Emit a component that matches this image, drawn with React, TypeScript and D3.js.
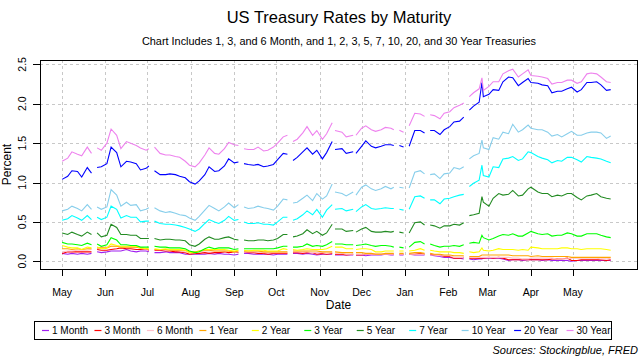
import { useEffect, useRef } from "react"
import * as d3 from "d3"

// sample dates (null rows = market holidays, they break the lines)
const dates = [
  "2020-05-01", "2020-05-05", "2020-05-08", "2020-05-12", "2020-05-15", "2020-05-19", "2020-05-22", "2020-05-25", "2020-05-26", "2020-05-29",
  "2020-06-02", "2020-06-05", "2020-06-09", "2020-06-12", "2020-06-16", "2020-06-19", "2020-06-23", "2020-06-26", "2020-06-30", "2020-07-02", "2020-07-03",
  "2020-07-06", "2020-07-10", "2020-07-14", "2020-07-17", "2020-07-21", "2020-07-24", "2020-07-28", "2020-07-31",
  "2020-08-04", "2020-08-07", "2020-08-11", "2020-08-14", "2020-08-18", "2020-08-21", "2020-08-25", "2020-08-28",
  "2020-09-01", "2020-09-04", "2020-09-07", "2020-09-08", "2020-09-11", "2020-09-15", "2020-09-18", "2020-09-22", "2020-09-25", "2020-09-29",
  "2020-10-02", "2020-10-06", "2020-10-09", "2020-10-12", "2020-10-13", "2020-10-16", "2020-10-20", "2020-10-23", "2020-10-27", "2020-10-30",
  "2020-11-03", "2020-11-06", "2020-11-10", "2020-11-11", "2020-11-12", "2020-11-17", "2020-11-20", "2020-11-25", "2020-11-26", "2020-11-27",
  "2020-12-01", "2020-12-04", "2020-12-08", "2020-12-11", "2020-12-15", "2020-12-18", "2020-12-22", "2020-12-24", "2020-12-25", "2020-12-28", "2020-12-31",
  "2021-01-01", "2021-01-04", "2021-01-08", "2021-01-12", "2021-01-15", "2021-01-18", "2021-01-19", "2021-01-22", "2021-01-26", "2021-01-29",
  "2021-02-02", "2021-02-05", "2021-02-09", "2021-02-12", "2021-02-15", "2021-02-16", "2021-02-19", "2021-02-23", "2021-02-25", "2021-02-26",
  "2021-03-02", "2021-03-05", "2021-03-09", "2021-03-12", "2021-03-16", "2021-03-19", "2021-03-23", "2021-03-26", "2021-03-30",
  "2021-04-01", "2021-04-06", "2021-04-09", "2021-04-13", "2021-04-16", "2021-04-20", "2021-04-23", "2021-04-27", "2021-04-30",
  "2021-05-04", "2021-05-07", "2021-05-11", "2021-05-14", "2021-05-18", "2021-05-21", "2021-05-25", "2021-05-28", "2021-05-31",
]

const month1 = [
  0.10, 0.09, 0.10, 0.09, 0.10, 0.09, 0.10, null, 0.12, 0.11,
  0.12, 0.13, 0.13, 0.13, 0.15, 0.13, 0.12, 0.13, 0.13, 0.12, null,
  0.11, 0.11, 0.12, 0.11, 0.11, 0.11, 0.09, 0.09,
  0.09, 0.09, 0.09, 0.10, 0.09, 0.10, 0.09, 0.09,
  0.08, 0.09, null, 0.10, 0.10, 0.09, 0.09, 0.09, 0.09, 0.08,
  0.09, 0.09, 0.09, null, 0.10, 0.10, 0.09, 0.10, 0.09, 0.08,
  0.09, 0.09, 0.09, null, 0.08, 0.08, 0.08, 0.08, null, 0.08,
  0.08, 0.07, 0.08, 0.08, 0.08, 0.09, 0.08, 0.08, null, 0.08, 0.08,
  null, 0.09, 0.08, 0.08, 0.08, null, 0.08, 0.07, 0.06, 0.05,
  0.05, 0.04, 0.04, 0.03, null, 0.03, 0.02, 0.03, 0.03, 0.04,
  0.04, 0.04, 0.04, 0.03, 0.01, 0.02, 0.02, 0.01, 0.02,
  0.02, 0.02, 0.01, 0.02, 0.01, 0.01, 0.01, 0.01, 0.00,
  0.01, 0.01, 0.01, 0.01, 0.01, 0.01, 0.01, 0.01, null,
]

const month3 = [
  0.10, 0.12, 0.12, 0.12, 0.12, 0.12, 0.12, null, 0.15, 0.14,
  0.14, 0.15, 0.16, 0.17, 0.16, 0.16, 0.15, 0.15, 0.16, 0.14, null,
  0.14, 0.14, 0.13, 0.13, 0.12, 0.12, 0.11, 0.09,
  0.10, 0.10, 0.11, 0.10, 0.11, 0.11, 0.12, 0.11,
  0.12, 0.11, null, 0.12, 0.11, 0.11, 0.10, 0.10, 0.09, 0.10,
  0.10, 0.10, 0.10, null, 0.11, 0.11, 0.10, 0.11, 0.11, 0.09,
  0.10, 0.09, 0.10, null, 0.09, 0.09, 0.08, 0.09, null, 0.08,
  0.08, 0.09, 0.09, 0.09, 0.09, 0.09, 0.09, 0.09, null, 0.09, 0.09,
  null, 0.09, 0.09, 0.10, 0.09, null, 0.09, 0.08, 0.08, 0.06,
  0.06, 0.04, 0.04, 0.05, null, 0.04, 0.04, 0.04, 0.04, 0.04,
  0.05, 0.04, 0.05, 0.04, 0.02, 0.02, 0.02, 0.02, 0.02,
  0.02, 0.02, 0.02, 0.02, 0.03, 0.03, 0.03, 0.04, 0.01,
  0.01, 0.02, 0.02, 0.02, 0.02, 0.02, 0.01, 0.02, null,
]

const month6 = [
  0.12, 0.13, 0.13, 0.14, 0.14, 0.14, 0.15, null, 0.16, 0.18,
  0.18, 0.19, 0.19, 0.18, 0.19, 0.18, 0.18, 0.17, 0.16, 0.15, null,
  0.15, 0.15, 0.14, 0.14, 0.14, 0.13, 0.12, 0.11,
  0.11, 0.12, 0.13, 0.13, 0.13, 0.13, 0.13, 0.13,
  0.12, 0.12, null, 0.12, 0.12, 0.12, 0.12, 0.11, 0.11, 0.11,
  0.11, 0.11, 0.11, null, 0.12, 0.12, 0.12, 0.12, 0.11, 0.11,
  0.11, 0.10, 0.11, null, 0.10, 0.10, 0.09, 0.09, null, 0.09,
  0.09, 0.09, 0.09, 0.09, 0.09, 0.09, 0.09, 0.09, null, 0.09, 0.09,
  null, 0.09, 0.09, 0.09, 0.09, null, 0.08, 0.08, 0.07, 0.07,
  0.07, 0.05, 0.05, 0.05, null, 0.05, 0.05, 0.05, 0.05, 0.05,
  0.05, 0.05, 0.05, 0.05, 0.05, 0.04, 0.04, 0.03, 0.03,
  0.04, 0.04, 0.04, 0.04, 0.04, 0.03, 0.03, 0.03, 0.04,
  0.04, 0.04, 0.04, 0.04, 0.04, 0.03, 0.03, 0.04, null,
]

const year1 = [
  0.16, 0.16, 0.15, 0.16, 0.15, 0.16, 0.16, null, 0.17, 0.17,
  0.17, 0.19, 0.19, 0.18, 0.18, 0.18, 0.18, 0.17, 0.16, 0.15, null,
  0.15, 0.15, 0.15, 0.14, 0.14, 0.14, 0.14, 0.12,
  0.12, 0.13, 0.14, 0.14, 0.13, 0.13, 0.13, 0.13,
  0.12, 0.13, null, 0.13, 0.13, 0.13, 0.13, 0.12, 0.12, 0.12,
  0.12, 0.12, 0.12, null, 0.13, 0.13, 0.13, 0.13, 0.13, 0.13,
  0.12, 0.12, 0.12, null, 0.12, 0.11, 0.11, 0.11, null, 0.11,
  0.11, 0.10, 0.10, 0.09, 0.09, 0.10, 0.10, 0.10, null, 0.10, 0.10,
  null, 0.10, 0.11, 0.11, 0.10, null, 0.10, 0.09, 0.09, 0.08,
  0.08, 0.07, 0.07, 0.07, null, 0.06, 0.06, 0.06, 0.08, 0.08,
  0.08, 0.08, 0.08, 0.08, 0.08, 0.07, 0.07, 0.07, 0.07,
  0.06, 0.07, 0.06, 0.06, 0.06, 0.06, 0.06, 0.06, 0.05,
  0.05, 0.05, 0.05, 0.05, 0.05, 0.05, 0.05, 0.05, null,
]

const year2 = [
  0.20, 0.18, 0.17, 0.17, 0.15, 0.18, 0.17, null, 0.18, 0.16,
  0.17, 0.22, 0.20, 0.19, 0.19, 0.19, 0.19, 0.17, 0.16, 0.16, null,
  0.16, 0.15, 0.16, 0.15, 0.15, 0.15, 0.14, 0.11,
  0.11, 0.13, 0.15, 0.15, 0.15, 0.15, 0.15, 0.14,
  0.13, 0.14, null, 0.14, 0.13, 0.14, 0.14, 0.14, 0.13, 0.13,
  0.13, 0.16, 0.15, null, 0.15, 0.14, 0.15, 0.16, 0.15, 0.15,
  0.15, 0.16, 0.19, null, 0.18, 0.18, 0.16, 0.16, null, 0.15,
  0.16, 0.16, 0.15, 0.12, 0.12, 0.13, 0.13, 0.13, null, 0.13, 0.13,
  null, 0.13, 0.14, 0.16, 0.14, null, 0.14, 0.13, 0.12, 0.12,
  0.12, 0.11, 0.11, 0.10, null, 0.12, 0.11, 0.12, 0.17, 0.14,
  0.13, 0.14, 0.16, 0.15, 0.15, 0.15, 0.14, 0.15, 0.14,
  0.18, 0.17, 0.16, 0.16, 0.16, 0.16, 0.17, 0.17, 0.16,
  0.16, 0.15, 0.16, 0.16, 0.16, 0.16, 0.15, 0.14, null,
]

const year3 = [
  0.24, 0.22, 0.22, 0.21, 0.20, 0.23, 0.21, null, 0.22, 0.19,
  0.21, 0.30, 0.27, 0.21, 0.21, 0.20, 0.20, 0.18, 0.18, 0.18, null,
  0.19, 0.18, 0.18, 0.17, 0.17, 0.17, 0.16, 0.13,
  0.11, 0.12, 0.16, 0.18, 0.16, 0.17, 0.17, 0.17,
  0.15, 0.16, null, 0.16, 0.16, 0.16, 0.16, 0.16, 0.16, 0.16,
  0.17, 0.19, 0.19, null, 0.18, 0.18, 0.19, 0.22, 0.19, 0.20,
  0.19, 0.21, 0.25, null, 0.22, 0.22, 0.21, 0.21, null, 0.20,
  0.21, 0.22, 0.20, 0.19, 0.20, 0.20, 0.19, 0.18, null, 0.18, 0.17,
  null, 0.18, 0.24, 0.25, 0.22, null, 0.22, 0.20, 0.18, 0.19,
  0.19, 0.20, 0.19, 0.21, null, 0.23, 0.24, 0.23, 0.33, 0.30,
  0.27, 0.29, 0.32, 0.34, 0.33, 0.35, 0.32, 0.32, 0.36,
  0.38, 0.35, 0.34, 0.35, 0.32, 0.33, 0.33, 0.36, 0.35,
  0.32, 0.32, 0.35, 0.35, 0.35, 0.33, 0.31, 0.30, null,
]

const year5 = [
  0.36, 0.34, 0.37, 0.34, 0.32, 0.37, 0.34, null, 0.36, 0.31,
  0.33, 0.47, 0.43, 0.34, 0.34, 0.33, 0.33, 0.29, 0.29, 0.29, null,
  0.29, 0.27, 0.28, 0.28, 0.27, 0.27, 0.26, 0.21,
  0.19, 0.22, 0.28, 0.31, 0.28, 0.28, 0.30, 0.31,
  0.28, 0.27, null, 0.27, 0.26, 0.26, 0.27, 0.27, 0.26, 0.27,
  0.29, 0.34, 0.34, null, 0.31, 0.32, 0.35, 0.40, 0.35, 0.38,
  0.33, 0.36, 0.47, null, 0.41, 0.41, 0.38, 0.39, null, 0.37,
  0.41, 0.43, 0.38, 0.37, 0.37, 0.38, 0.37, 0.38, null, 0.37, 0.36,
  null, 0.36, 0.49, 0.50, 0.46, null, 0.46, 0.45, 0.42, 0.45,
  0.45, 0.47, 0.46, 0.49, null, 0.58, 0.59, 0.61, 0.82, 0.75,
  0.70, 0.80, 0.86, 0.84, 0.85, 0.90, 0.83, 0.84, 0.92,
  0.94, 0.88, 0.86, 0.86, 0.82, 0.84, 0.83, 0.86, 0.86,
  0.81, 0.78, 0.83, 0.84, 0.86, 0.82, 0.80, 0.79, null,
]

const year7 = [
  0.52, 0.54, 0.58, 0.55, 0.52, 0.58, 0.53, null, 0.56, 0.53,
  0.56, 0.70, 0.66, 0.55, 0.58, 0.56, 0.56, 0.50, 0.51, 0.51, null,
  0.51, 0.48, 0.47, 0.47, 0.46, 0.45, 0.43, 0.41,
  0.38, 0.41, 0.48, 0.53, 0.50, 0.48, 0.52, 0.57,
  0.52, 0.53, null, 0.50, 0.48, 0.48, 0.49, 0.47, 0.47, 0.46,
  0.50, 0.56, 0.56, null, 0.52, 0.54, 0.59, 0.64, 0.59, 0.66,
  0.56, 0.65, 0.72, null, 0.66, 0.67, 0.64, 0.66, null, 0.63,
  0.69, 0.72, 0.67, 0.66, 0.67, 0.68, 0.67, 0.67, null, 0.66, 0.65,
  null, 0.66, 0.82, 0.83, 0.80, null, 0.78, 0.78, 0.73, 0.79,
  0.80, 0.82, 0.84, 0.85, null, 0.95, 0.99, 1.03, 1.22, 1.09,
  1.07, 1.20, 1.19, 1.30, 1.31, 1.33, 1.28, 1.30, 1.39,
  1.38, 1.33, 1.31, 1.29, 1.25, 1.28, 1.27, 1.32, 1.32,
  1.29, 1.26, 1.33, 1.32, 1.31, 1.30, 1.27, 1.25, null,
]

const year10 = [
  0.64, 0.66, 0.70, 0.67, 0.64, 0.72, 0.66, null, 0.69, 0.66,
  0.69, 0.91, 0.84, 0.70, 0.75, 0.71, 0.72, 0.64, 0.66, 0.68, null,
  0.68, 0.64, 0.62, 0.63, 0.61, 0.59, 0.58, 0.55,
  0.52, 0.57, 0.65, 0.71, 0.67, 0.64, 0.69, 0.74,
  0.68, 0.72, null, 0.69, 0.67, 0.68, 0.70, 0.68, 0.67, 0.65,
  0.70, 0.79, 0.78, null, 0.74, 0.75, 0.80, 0.84, 0.77, 0.86,
  0.79, 0.83, 0.98, null, 0.88, 0.86, 0.83, 0.88, null, 0.84,
  0.94, 0.97, 0.92, 0.90, 0.92, 0.95, 0.92, 0.94, null, 0.94, 0.93,
  null, 0.93, 1.13, 1.15, 1.11, null, 1.10, 1.11, 1.05, 1.11,
  1.12, 1.19, 1.17, 1.20, null, 1.30, 1.34, 1.37, 1.54, 1.44,
  1.42, 1.57, 1.55, 1.64, 1.62, 1.74, 1.64, 1.67, 1.73,
  1.69, 1.67, 1.67, 1.64, 1.59, 1.61, 1.58, 1.62, 1.65,
  1.60, 1.60, 1.63, 1.64, 1.64, 1.63, 1.56, 1.59, null,
]

const year20 = [
  1.04, 1.08, 1.15, 1.14, 1.07, 1.19, 1.12, null, 1.19, 1.20,
  1.24, 1.45, 1.38, 1.20, 1.27, 1.26, 1.24, 1.16, 1.18, 1.21, null,
  1.15, 1.10, 1.10, 1.11, 1.10, 1.08, 1.06, 1.01,
  0.98, 1.02, 1.10, 1.20, 1.14, 1.15, 1.21, 1.30,
  1.25, 1.26, null, 1.24, 1.23, 1.22, 1.23, 1.20, 1.21, 1.23,
  1.29, 1.37, 1.36, null, 1.28, 1.32, 1.39, 1.44, 1.36, 1.41,
  1.30, 1.38, 1.52, null, 1.42, 1.43, 1.37, 1.39, null, 1.37,
  1.46, 1.53, 1.46, 1.44, 1.46, 1.48, 1.48, 1.47, null, 1.47, 1.45,
  null, 1.46, 1.66, 1.66, 1.63, null, 1.66, 1.66, 1.61, 1.67,
  1.71, 1.77, 1.78, 1.83, null, 1.92, 1.97, 2.02, 2.27, 2.09,
  2.12, 2.18, 2.17, 2.28, 2.34, 2.33, 2.23, 2.27, 2.32,
  2.27, 2.26, 2.24, 2.23, 2.14, 2.16, 2.16, 2.19, 2.21,
  2.15, 2.18, 2.27, 2.27, 2.28, 2.24, 2.17, 2.18, null,
]

const year30 = [
  1.27, 1.31, 1.39, 1.36, 1.34, 1.45, 1.37, null, 1.44, 1.41,
  1.50, 1.68, 1.60, 1.43, 1.52, 1.50, 1.47, 1.44, 1.41, 1.43, null,
  1.45, 1.37, 1.35, 1.35, 1.33, 1.32, 1.27, 1.22,
  1.20, 1.25, 1.35, 1.44, 1.37, 1.36, 1.43, 1.51,
  1.48, 1.47, null, 1.43, 1.42, 1.42, 1.45, 1.40, 1.41, 1.45,
  1.50, 1.58, 1.60, null, 1.52, 1.55, 1.63, 1.71, 1.60, 1.66,
  1.55, 1.62, 1.76, null, 1.66, 1.64, 1.58, 1.60, null, 1.60,
  1.69, 1.72, 1.67, 1.65, 1.67, 1.70, 1.69, 1.67, null, 1.665, 1.64,
  null, 1.72, 1.88, 1.87, 1.84, null, 1.86, 1.85, 1.81, 1.88,
  1.90, 1.95, 1.98, 2.01, null, 2.09, 2.14, 2.19, 2.33, 2.17,
  2.22, 2.28, 2.28, 2.38, 2.42, 2.44, 2.34, 2.38, 2.43,
  2.36, 2.35, 2.34, 2.32, 2.25, 2.27, 2.27, 2.30, 2.30,
  2.26, 2.28, 2.38, 2.39, 2.38, 2.34, 2.28, 2.27, null,
]

const seriesNames = ["1 Month", "3 Month", "6 Month", "1 Year", "2 Year", "3 Year", "5 Year", "7 Year", "10 Year", "20 Year", "30 Year"]
const seriesValues = [month1, month3, month6, year1, year2, year3, year5, year7, year10, year20, year30]
const seriesColors = ["#a020f0", "#ff0000", "#ffc0cb", "#ffa500", "#ffff00", "#00ff00", "#228b22", "#00ffff", "#87ceeb", "#0000ff", "#ee82ee"]

const monthTicks = [
  "2020-05-01", "2020-06-01", "2020-07-01", "2020-08-01", "2020-09-01", "2020-10-01", "2020-11-01",
  "2020-12-01", "2021-01-01", "2021-02-01", "2021-03-01", "2021-04-01", "2021-05-01",
]
const yTicks = [0, 0.5, 1, 1.5, 2, 2.5]

const FONT = "'Liberation Sans', Arial, sans-serif"

export default function App() {
  const svgRef = useRef<SVGSVGElement>(null)

  useEffect(() => {
    if (!svgRef.current) return
    const svg = d3.select(svgRef.current)
    svg.selectAll("*").remove()

    const width = 640
    const height = 360
    const box = { left: 40, right: 637, top: 60, bottom: 269 }

    const parse = d3.timeParse("%Y-%m-%d")
    const xDates = dates.map((d) => parse(d) as Date)

    // R style axis: data range padded by 4% each side
    const pad = ((box.right - box.left) / 1.08) * 0.04
    const x = d3
      .scaleTime()
      .domain(d3.extent(xDates) as [Date, Date])
      .range([box.left + pad, box.right - pad])

    const y = d3.scaleLinear().domain([-0.098, 2.556]).range([box.bottom, box.top])

    svg.append("rect").attr("width", width).attr("height", height).attr("fill", "#fff")

    // grid
    const grid = svg.append("g").attr("stroke", "#c8c8c8").attr("stroke-dasharray", "3,3").attr("stroke-width", 1)
    grid
      .selectAll(".gx")
      .data(monthTicks)
      .enter()
      .append("line")
      .attr("x1", (d) => Math.round(x(parse(d) as Date)) + 0.5)
      .attr("x2", (d) => Math.round(x(parse(d) as Date)) + 0.5)
      .attr("y1", box.top)
      .attr("y2", box.bottom)
    grid
      .selectAll(".gy")
      .data(yTicks)
      .enter()
      .append("line")
      .attr("x1", box.left)
      .attr("x2", box.right)
      .attr("y1", (d) => Math.round(y(d)) + 0.5)
      .attr("y2", (d) => Math.round(y(d)) + 0.5)

    // series
    const line = d3
      .line<number | null>()
      .defined((v) => v != null)
      .x((_, i) => x(xDates[i]))
      .y((v) => y(v as number))

    svg
      .append("g")
      .selectAll("path")
      .data(seriesValues)
      .enter()
      .append("path")
      .attr("d", (d) => line(d))
      .attr("fill", "none")
      .attr("stroke", (_, i) => seriesColors[i])
      .attr("stroke-width", 1.1)

    // plot box
    svg
      .append("rect")
      .attr("x", box.left + 0.5)
      .attr("y", box.top + 0.5)
      .attr("width", box.right - box.left)
      .attr("height", box.bottom - box.top)
      .attr("fill", "none")
      .attr("stroke", "#000")

    // x axis
    const xa = svg.append("g")
    xa.selectAll("line")
      .data(monthTicks)
      .enter()
      .append("line")
      .attr("x1", (d) => Math.round(x(parse(d) as Date)) + 0.5)
      .attr("x2", (d) => Math.round(x(parse(d) as Date)) + 0.5)
      .attr("y1", box.bottom)
      .attr("y2", box.bottom + 7)
      .attr("stroke", "#000")
    xa.selectAll("text")
      .data(monthTicks)
      .enter()
      .append("text")
      .attr("x", (d) => x(parse(d) as Date))
      .attr("y", 296)
      .attr("text-anchor", "middle")
      .attr("font-family", FONT)
      .attr("font-size", "10.5px")
      .text((d) => d3.timeFormat("%b")(parse(d) as Date))

    // y axis
    const ya = svg.append("g")
    ya.selectAll("line")
      .data(yTicks)
      .enter()
      .append("line")
      .attr("x1", box.left - 7)
      .attr("x2", box.left)
      .attr("y1", (d) => Math.round(y(d)) + 0.5)
      .attr("y2", (d) => Math.round(y(d)) + 0.5)
      .attr("stroke", "#000")
    ya.selectAll("text")
      .data(yTicks)
      .enter()
      .append("text")
      .attr("transform", (d) => `translate(26, ${y(d)}) rotate(-90)`)
      .attr("text-anchor", "middle")
      .attr("font-family", FONT)
      .attr("font-size", "10.5px")
      .text((d) => d3.format(".1f")(d))

    // titles
    const addText = (tx: number, ty: number, txt: string, size: string, anchor = "middle", extra?: (s: any) => void) => {
      const t = svg
        .append("text")
        .attr("x", tx)
        .attr("y", ty)
        .attr("text-anchor", anchor)
        .attr("font-family", FONT)
        .attr("font-size", size)
        .text(txt)
      if (extra) extra(t)
      return t
    }
    addText(339, 23, "US Treasury Rates by Maturity", "16.5px")
    addText(339, 45, "Chart Includes 1, 3, and 6 Month, and 1, 2, 3, 5, 7, 10, 20, and 30 Year Treasuries", "10.9px")
    addText((box.left + box.right) / 2, 309, "Date", "12px")
    addText(0, 0, "Percent", "12px", "middle", (t) =>
      t.attr("transform", `translate(11, ${(box.top + box.bottom) / 2}) rotate(-90)`),
    )
    addText(638, 354, "Sources: Stockingblue, FRED", "11px", "end", (t) => t.attr("font-style", "italic"))

    // legend
    const lg = { left: 34, right: 611, top: 321, bottom: 339 }
    svg
      .append("rect")
      .attr("x", lg.left + 0.5)
      .attr("y", lg.top + 0.5)
      .attr("width", lg.right - lg.left)
      .attr("height", lg.bottom - lg.top)
      .attr("fill", "#fff")
      .attr("stroke", "#000")
    const step = (lg.right - lg.left) / seriesNames.length
    const items = svg
      .append("g")
      .selectAll("g")
      .data(seriesNames)
      .enter()
      .append("g")
      .attr("transform", (_, i) => `translate(${lg.left + 8 + i * step}, ${(lg.top + lg.bottom) / 2 + 0.5})`)
    items
      .append("line")
      .attr("x1", 0)
      .attr("x2", 7)
      .attr("stroke", (_, i) => seriesColors[i])
      .attr("stroke-width", 1.2)
    items
      .append("text")
      .attr("x", 10)
      .attr("y", 3.5)
      .attr("font-family", FONT)
      .attr("font-size", "10px")
      .text((d) => d)
  }, [])

  return (
    <svg
      ref={svgRef}
      width={640}
      height={360}
      style={{ position: "absolute", left: 0, top: 0, display: "block" }}
    />
  )
}
